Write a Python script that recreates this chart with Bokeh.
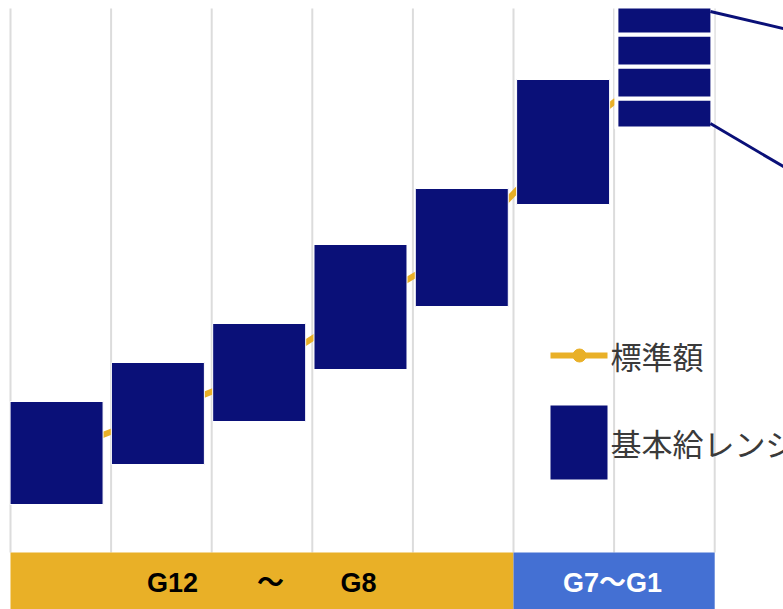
from bokeh.plotting import figure
from bokeh.models import Range1d
from bokeh.embed import file_html
from bokeh.resources import INLINE
from bokeh.core.properties import value

# ---- data (arbitrary salary units) ----
grades = ["1", "2", "3", "4", "5", "6", "7"]
range_low = [48, 88, 131, 183, 246, 348]
range_high = [151, 190, 229, 308, 364, 473]
standard = [99.5, 139, 180, 245, 305, 410.5, 490]
top_low = [424, 454, 486, 518]
top_high = [454, 486, 518, 546]
band_labels = ["G12", "～", "G8"]
band_label2 = "G7～G1"
legend_labels = ["標準額", "基本給レンジ"]

NAVY = "#0A1078"
GOLD = "#E9B027"
BLUE = "#4470D3"
GRID = "#DCDCDC"
BAND_FONT = value("Liberation Sans, 'Noto Sans CJK JP'")

px = 100.6  # pixels per category
p = figure(width=783, height=609, output_backend="svg", toolbar_location=None,
           x_range=Range1d(-10 / px, 773 / px), y_range=Range1d(-57, 552),
           x_axis_location=None, y_axis_location=None, min_border=0)
p.outline_line_color = None
p.grid.visible = False
p.background_fill_color = "white"
p.border_fill_color = "white"

n = len(grades)
xs = list(range(n + 1))
# vertical grid lines
p.segment(x0=xs, y0=[0] * len(xs), x1=xs, y1=[544] * len(xs), line_color=GRID, line_width=2)

centers = [i * 1.007 + 0.458 for i in range(n)]
# standard line
p.line(centers, standard, line_color=GOLD, line_width=6)
p.scatter(centers, standard, size=13, fill_color=GOLD, line_color=GOLD)

# ranges
w = 93 / px
p.vbar(x=centers[:6], width=w, bottom=range_low, top=range_high,
       fill_color=NAVY, line_color="white", line_width=1)
# top grade split boxes
wt = 96 / px
p.vbar(x=[centers[6]] * 4, width=wt, bottom=top_low, top=top_high,
       fill_color=NAVY, line_color="white", line_width=4)

# connector lines going off to the right
xr = centers[6] + wt / 2 - 2 / px
p.segment(x0=[xr, xr], y0=[541, 429], x1=[xr + 90 / px, xr + 90 / px],
          y1=[541 - 0.233 * 90, 429 - 0.59 * 90], line_color=NAVY, line_width=3)

# bottom band
p.quad(left=[0, 5], right=[5, 7], bottom=[-60, -60], top=[0, 0],
       fill_color=[GOLD, BLUE], line_color=None)
p.text(x=[1.61, 2.585, 3.46], y=[-30, -30, -30], text=band_labels,
       text_font=BAND_FONT, text_font_style="bold",
       text_font_size="27px", text_color="black",
       text_align="center", text_baseline="middle")
p.text(x=[5.985], y=[-30], text=[band_label2],
       text_font=BAND_FONT, text_font_style="bold",
       text_font_size="27px", text_color="white",
       text_align="center", text_baseline="middle")

# manual legend
lx0 = (550 - 10) / px
lx1 = (607 - 10) / px
p.line([lx0, lx1], [197, 197], line_color=GOLD, line_width=6)
p.scatter([(579 - 10) / px], [197], size=13, fill_color=GOLD, line_color=GOLD)
p.quad(left=[lx0], right=[lx1], bottom=[73], top=[147], fill_color=NAVY, line_color=None)
p.text(x=[(610 - 10) / px] * 2, y=[197, 110], text=legend_labels,
       text_font=value("Noto Sans CJK JP"), text_font_size="31px",
       text_color="#3A3A3A", text_align="left", text_baseline="middle")

open("out.html", "w").write(file_html(p, INLINE))
